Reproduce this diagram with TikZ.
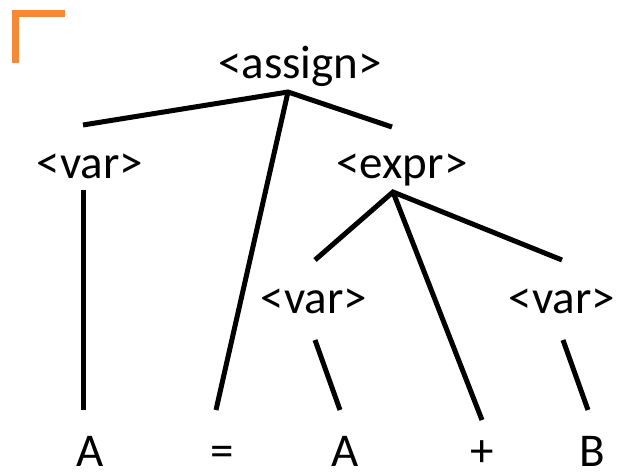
\documentclass[tikz,border=0pt]{standalone}
\usepackage{fontspec}
\setmainfont{Carlito}
\usepackage{tikz}
\usetikzlibrary{positioning}
\definecolor{cornerOrange}{RGB}{245,137,56}

\begin{document}
\begin{tikzpicture}[x=1pt,y=-1pt,
    sym/.style={font=\fontsize{47}{47}\selectfont, inner sep=0pt, anchor=base},
    edge/.style={line width=5pt},
  ]
  \useasboundingbox (0,0) rectangle (625,476);

  % corner mark
  \fill[cornerOrange] (12,10) rectangle (19,63);
  \fill[cornerOrange] (12,10) rectangle (65,17);

  % nonterminals
  \node[sym] (assign) at (300,79) {<assign>};
  \node[sym] (var1) at (90,179) {<var>};
  \node[sym] (expr) at (402,179) {<expr>};
  \node[sym] (var2) at (314,314) {<var>};
  \node[sym] (var3) at (562,314) {<var>};

  % terminals
  \node[sym] (a1) at (90,466) {A};
  \node[sym] (eq) at (222,466) {=};
  \node[sym] (a2) at (345,466) {A};
  \node[sym] (plus) at (482,466) {+};
  \node[sym] (b) at (592,466) {B};

  % branch points
  \coordinate (assign-r) at (288,92);
  \coordinate (expr-r) at (393,192);
  \coordinate (var1-t) at (83,125);
  \coordinate (expr-t) at (392,127);
  \coordinate (var2-t) at (315,260);
  \coordinate (var3-t) at (562,260);
  \coordinate (var1-b) at (83,190);
  \coordinate (var2-b) at (315,340);
  \coordinate (var3-b) at (563,340);
  \coordinate (a1-t) at (83,410);
  \coordinate (eq-t) at (216,410);
  \coordinate (a2-t) at (340,410);
  \coordinate (plus-t) at (482,420);
  \coordinate (b-t) at (588,410);

  % edges
  \draw[edge] (var1-t) -- (assign-r) -- (expr-t);
  \draw[edge] (assign-r) -- (eq-t);
  \draw[edge] (var1-b) -- (a1-t);
  \draw[edge] (var2-t) -- (expr-r) -- (var3-t);
  \draw[edge] (expr-r) -- (plus-t);
  \draw[edge] (var2-b) -- (a2-t);
  \draw[edge] (var3-b) -- (b-t);
\end{tikzpicture}
\end{document}
